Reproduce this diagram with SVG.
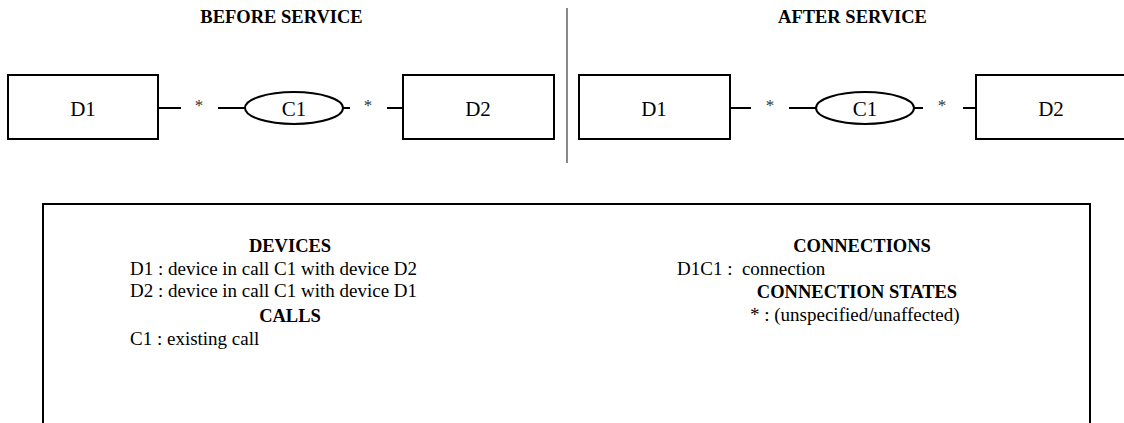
<svg xmlns="http://www.w3.org/2000/svg" width="1124" height="423" viewBox="0 0 1124 423">
  <style>
    .box { fill: #fff; stroke: #000; stroke-width: 2; }
    .ell { fill: #fff; stroke: #000; stroke-width: 2; }
    .conn { stroke: #000; stroke-width: 2; fill: none; }
    .lbl { font-family: "Liberation Serif", "Times New Roman", serif; font-size: 21px; fill: #000; text-anchor: middle; }
    .ast { font-family: "Liberation Serif", "Times New Roman", serif; font-size: 17px; fill: #333; text-anchor: middle; }
    .title { font-family: "Liberation Serif", "Times New Roman", serif; font-size: 18.5px; font-weight: bold; fill: #000; text-anchor: middle; }
    .head { font-family: "Liberation Serif", "Times New Roman", serif; font-size: 18.5px; font-weight: bold; fill: #000; text-anchor: middle; }
    .txt { font-family: "Liberation Serif", "Times New Roman", serif; font-size: 19px; fill: #000; }
  </style>
  <rect width="1124" height="423" fill="#fff"/>

  <text class="title" x="281.5" y="23">BEFORE SERVICE</text>
  <text class="title" x="852.5" y="23">AFTER SERVICE</text>

  <line x1="567" y1="8" x2="567" y2="163" stroke="#888" stroke-width="2"/>

  <g id="connectors">
    <line class="conn" x1="158" y1="108" x2="181" y2="108"/>
    <line class="conn" x1="218" y1="108" x2="245" y2="108"/>
    <line class="conn" x1="343" y1="108" x2="350" y2="108"/>
    <line class="conn" x1="387" y1="108" x2="403" y2="108"/>
    <line class="conn" x1="730" y1="108" x2="751" y2="108"/>
    <line class="conn" x1="789" y1="108" x2="816" y2="108"/>
    <line class="conn" x1="914" y1="108" x2="923" y2="108"/>
    <line class="conn" x1="963" y1="108" x2="976" y2="108"/>
    <text class="ast" x="199" y="111">*</text>
    <text class="ast" x="368" y="111">*</text>
    <text class="ast" x="770" y="111">*</text>
    <text class="ast" x="942" y="111">*</text>
  </g>

  <g id="before-D1">
    <rect class="box" x="8" y="75" width="150" height="64"/>
    <text class="lbl" x="83" y="116">D1</text>
  </g>
  <g id="before-C1">
    <ellipse class="ell" cx="294" cy="108" rx="49" ry="16"/>
    <text class="lbl" x="294" y="116">C1</text>
  </g>
  <g id="before-D2">
    <rect class="box" x="403" y="75" width="151" height="64"/>
    <text class="lbl" x="478" y="116">D2</text>
  </g>

  <g id="after-D1">
    <rect class="box" x="579" y="75" width="151" height="64"/>
    <text class="lbl" x="654" y="116">D1</text>
  </g>
  <g id="after-C1">
    <ellipse class="ell" cx="865" cy="108" rx="49" ry="16"/>
    <text class="lbl" x="865" y="116">C1</text>
  </g>
  <g id="after-D2">
    <rect class="box" x="976" y="75" width="151" height="64"/>
    <text class="lbl" x="1051" y="116">D2</text>
  </g>

  <g id="legend">
    <path d="M43,430 V204 H1090 V430" fill="none" stroke="#000" stroke-width="2"/>
    <text class="head" x="290" y="252">DEVICES</text>
    <text class="txt" x="130" y="275">D1 : device in call C1 with device D2</text>
    <text class="txt" x="130" y="297">D2 : device in call C1 with device D1</text>
    <text class="head" x="290" y="322">CALLS</text>
    <text class="txt" x="130" y="345">C1 : existing call</text>

    <text class="head" x="862" y="252">CONNECTIONS</text>
    <text class="txt" x="677" y="275" xml:space="preserve">D1C1 :  connection</text>
    <text class="head" x="857" y="298">CONNECTION STATES</text>
    <text class="txt" x="750" y="321">* : (unspecified/unaffected)</text>
  </g>
</svg>
